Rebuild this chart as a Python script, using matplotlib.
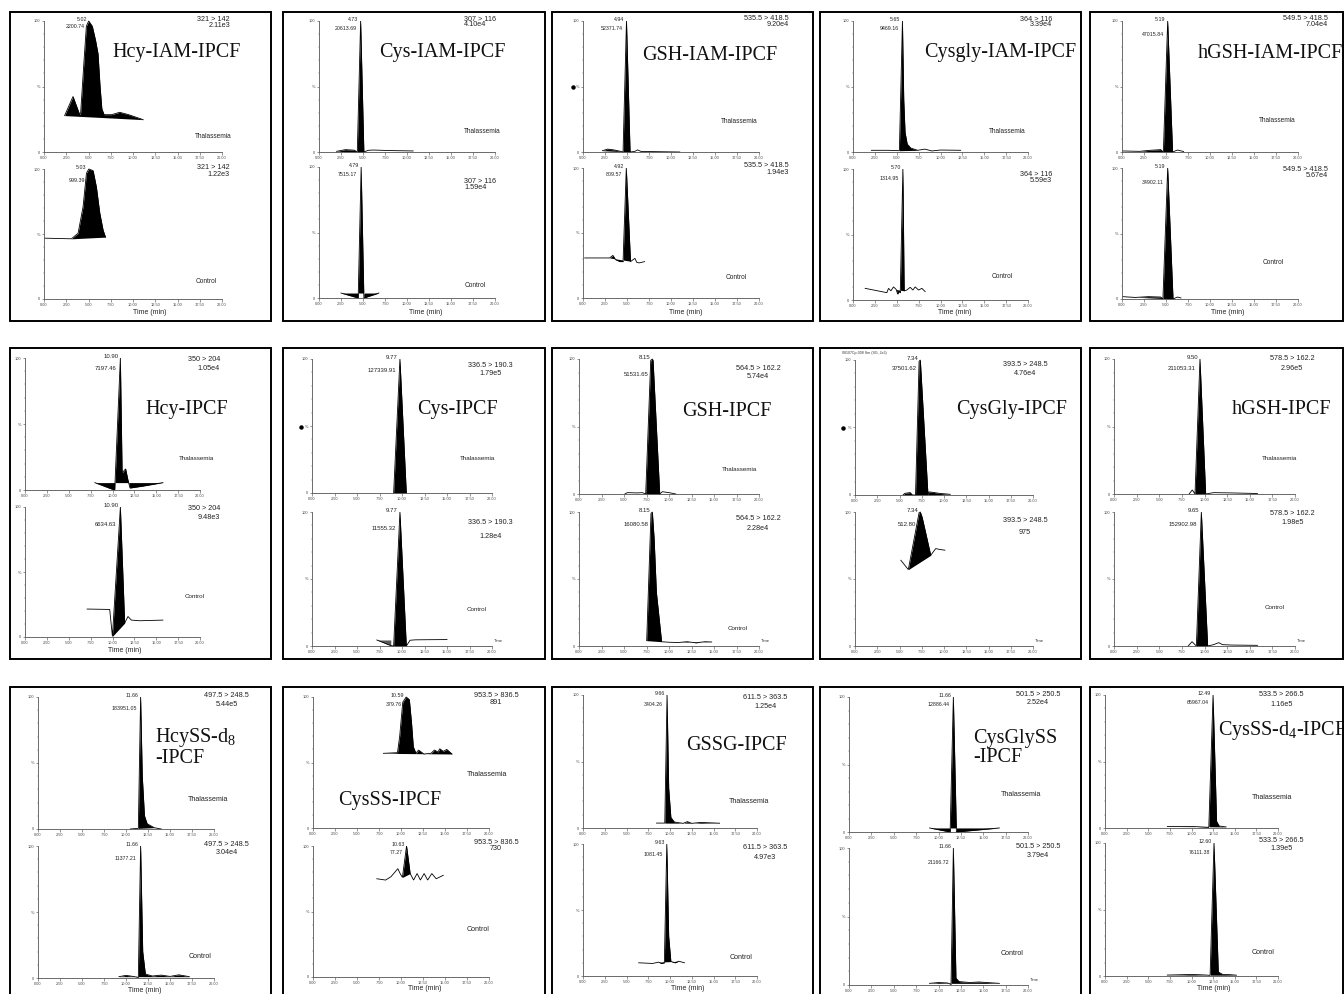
import numpy as np
import matplotlib
matplotlib.use("Agg")
import matplotlib.pyplot as plt
from matplotlib.patches import Rectangle
from matplotlib.lines import Line2D

plt.rcParams['font.family'] = ['Liberation Sans', 'DejaVu Sans']
plt.rcParams['mathtext.fontset'] = 'custom'
plt.rcParams['mathtext.rm'] = 'Liberation Serif'
plt.rcParams['mathtext.it'] = 'Liberation Serif:italic'

# ---------------- data ----------------
compounds = ["Hcy-IAM-IPCF", "Cys-IAM-IPCF", "GSH-IAM-IPCF", "Cysgly-IAM-IPCF", "hGSH-IAM-IPCF",
             "Hcy-IPCF", "Cys-IPCF", "GSH-IPCF", "CysGly-IPCF", "hGSH-IPCF",
             "HcySS-d$_{8}$\n-IPCF", "CysSS-IPCF", "GSSG-IPCF", "CysGlySS\n-IPCF", "CysSS-d$_{4}$-IPCF"]
mrm = ["321 > 142", "307 > 116", "535.5 > 418.5", "364 > 116", "549.5 > 418.5",
       "350 > 204", "336.5 > 190.3", "564.5 > 162.2", "393.5 > 248.5", "578.5 > 162.2",
       "497.5 > 248.5", "953.5 > 836.5", "611.5 > 363.5", "501.5 > 250.5", "533.5 > 266.5"]
rt_thal = [5.02, 4.73, 4.94, 5.65, 5.19, 10.90, 9.77, 8.15, 7.34, 9.50, 11.66, 10.59, 9.66, 11.66, 12.49]
area_thal = ["2200.74", "20613.69", "52371.74", "9469.16", "47015.84", "7197.46", "127339.91", "51531.65",
             "37501.62", "211053.31", "183951.05", "379.76", "3404.26", "12886.44", "65967.04"]
int_thal = ["2.11e3", "4.10e4", "9.20e4", "3.39e4", "7.04e4", "1.05e4", "1.79e5", "5.74e4",
            "4.76e4", "2.96e5", "5.44e5", "891", "1.25e4", "2.52e4", "1.16e5"]
rt_ctrl = [5.03, 4.79, 4.92, 5.70, 5.19, 10.90, 9.77, 8.15, 7.34, 9.65, 11.66, 10.63, 9.63, 11.66, 12.60]
area_ctrl = ["999.39", "7515.17", "809.57", "1314.95", "34902.11", "6634.63", "11555.32", "16080.58",
             "512.80", "152902.98", "11377.21", "77.27", "1081.45", "21166.72", "76111.38"]
int_ctrl = ["1.22e3", "1.59e4", "1.94e3", "5.59e3", "5.67e4", "9.48e3", "1.28e4", "2.28e4",
            "975", "1.98e5", "3.04e4", "730", "4.97e3", "3.79e4", "1.39e5"]
groups = ["Thalassemia", "Control"]
x_ticks = [0.0, 2.5, 5.0, 7.5, 10.0, 12.5, 15.0, 17.5, 20.0]

# chromatogram traces: (time min, relative intensity %)
hcy_iam_thal = [(2.32, 27.8), (3.26, 42.4), (4.01, 28.5), (4.12, 30), (4.5, 70), (4.76, 96), (5.02, 100),
                (5.43, 96), (5.8, 85), (6.07, 75), (6.3, 50), (6.5, 33), (6.75, 28.5), (7.6, 28.5),
                (8.5, 30.3), (9.5, 28.5), (11.14, 24.7)]
hcy_iam_ctrl = [(0.08, 46.8), (3.08, 46.3), (3.83, 50.6), (4.39, 71), (4.77, 96.7), (5.03, 100), (5.52, 98.7),
                (5.89, 86), (6.27, 66), (6.64, 53), (6.91, 47.6)]
cys_iam_thal = [(2.0, 0.5), (3.0, 1.8), (4.0, 1.4), (4.35, 0), (4.73, 100), (5.1, 0), (5.6, 1.3), (6.2, 1.5),
                (8.0, 1.1), (10.7, 0.8)]
cys_iam_ctrl = [(2.5, 3.8), (4.45, 0), (4.79, 100), (5.1, 0), (6.8, 3.8)]
gsh_iam_thal = [(2.2, 1.0), (2.8, 2.2), (3.5, 1.6), (4.2, 0.6), (4.55, 0), (4.94, 100), (5.35, 0), (5.9, 0.5),
                (6.2, 1.6), (6.6, 0.4), (8.0, 0.3), (11.0, 0)]
gsh_iam_ctrl = [(0.19, 30.8), (3.03, 30.8), (3.4, 32.8), (3.7, 29.5), (4.2, 28), (4.55, 28), (4.92, 100),
                (5.4, 28), (5.9, 30.5), (6.1, 27.5), (6.4, 27), (7.0, 28)]
cysgly_iam_thal = [(2.1, 1.3), (4.0, 1.3), (5.3, 1.0), (5.65, 100), (5.8, 40), (5.95, 15), (6.2, 6), (6.6, 3),
                   (7.4, 1.3), (8.2, 2.2), (9.0, 0.8), (10.0, 1.5), (12.3, 1.3)]
cysgly_iam_ctrl = [(1.39, 8.9), (3.87, 5.6), (4.06, 8.9), (4.33, 7), (4.63, 10), (4.94, 8), (5.1, 4.5),
                   (5.25, 6.5), (5.4, 5.5), (5.70, 100), (5.85, 7), (6.15, 7.6), (6.54, 9.7), (6.84, 7.6),
                   (7.11, 10), (7.49, 7.6), (7.87, 8.9), (8.25, 6.4)]
hgsh_iam_thal = [(0.1, 0.8), (2.0, 0.5), (3.0, 1.2), (4.4, 1.8), (4.7, 0), (5.19, 100), (5.75, 0), (6.3, 1.5),
                 (6.6, 1.0), (7.0, 0.4)]
hgsh_iam_ctrl = [(0.1, 1.8), (1.5, 1.2), (3.0, 1.8), (4.4, 1.5), (4.65, 0), (5.19, 100), (5.8, 0), (6.3, 1.5),
                 (6.7, 0.8)]
hcy_thal = [(7.98, 5.6), (9.87, 0.8), (10.25, 0), (10.90, 100), (11.1, 13), (11.5, 16), (11.75, 8),
            (12.0, 1.5), (13.5, 3), (15.76, 5.6)]
hcy_ctrl = [(7.1, 21.5), (9.68, 21.2), (9.99, 0.5), (10.90, 100), (11.39, 10.7), (11.77, 15.8), (12.15, 13),
            (13.1, 12.5), (15.76, 13)]
cys_thal = [(9.07, 0), (9.77, 100), (10.48, 0)]
cys_ctrl = [(7.2, 4.5), (8.75, 0.3), (9.07, 0), (9.77, 100), (10.48, 0), (10.9, 4.3), (11.5, 4.6),
            (13.0, 4.7), (15.0, 4.8)]
gsh_thal = [(5.1, 0), (5.37, 1.0), (6.5, 0.8), (7.04, 1.0), (7.41, 0), (7.97, 99), (8.15, 100), (8.23, 99),
            (8.97, 0), (9.26, 1.7), (10.0, 1.0), (10.75, 0)]
gsh_ctrl = [(7.52, 4.0), (8.0, 99), (8.15, 100), (8.35, 80), (8.6, 40), (9.18, 3.2), (10.0, 2.8), (11.0, 2.6),
            (12.0, 3.2), (13.0, 2.4), (14.0, 3.2), (14.74, 3.0)]
cysgly_thal = [(5.4, 0), (5.58, 1.2), (6.2, 1.8), (6.45, 0), (6.8, 0), (7.2, 99), (7.34, 100), (8.2, 0),
               (8.3, 2.3), (8.7, 2.0), (9.5, 1.2), (10.7, 0.5)]
cysgly_ctrl = [(5.15, 64), (5.99, 57), (7.2, 99.5), (7.34, 100), (7.55, 96), (8.51, 67.7), (9.07, 72.7),
               (9.56, 72), (10.1, 71.5)]
hgsh_thal = [(8.3, 0), (8.65, 3), (8.95, 0), (9.50, 100), (10.13, 0), (11.0, 1.0), (13.0, 0.8), (15.0, 0.5),
             (15.85, 0.3)]
hgsh_ctrl = [(8.2, 0), (8.62, 3.2), (9.1, 0), (9.65, 100), (10.35, 0), (11.0, 1.0), (11.57, 2.5), (12.0, 1.0),
             (13.0, 0.7), (15.85, 0.5)]
hcyss_thal = [(10.5, 0), (11.4, 0.5), (11.66, 100), (11.85, 40), (12.1, 10), (12.4, 4), (13.2, 1), (14.0, 0)]
hcyss_ctrl = [(9.2, 1), (10.0, 2), (10.8, 1.2), (11.4, 0.5), (11.66, 100), (11.9, 20), (12.2, 3), (13.0, 1.5),
              (14.0, 2.2), (15.0, 1.2), (16.0, 2.4), (17.2, 1)]
cysss_thal = [(8.0, 57), (9.6, 57.5), (9.85, 70), (10.2, 96), (10.59, 100), (10.95, 98), (11.2, 80),
              (11.4, 62), (11.7, 57), (12.0, 59.5), (12.6, 56.5), (13.4, 57), (13.8, 59.5), (14.2, 58),
              (14.4, 60.5), (14.8, 58.5), (15.2, 60), (15.8, 56.5)]
cysss_ctrl = [(7.25, 75), (8.25, 74), (8.85, 76.5), (9.3, 80), (9.64, 82.7), (9.9, 79), (10.16, 76),
              (10.63, 100), (11.04, 79), (11.43, 74), (11.83, 79), (12.2, 74), (12.63, 79), (13.03, 74),
              (13.5, 79), (14.0, 75), (14.8, 77.6)]
gssg_thal = [(8.45, 3.7), (9.4, 3.7), (9.66, 100), (9.85, 30), (10.1, 8), (10.5, 4.5), (11.5, 3.5), (12.0, 4.8),
             (12.5, 3.5), (13.5, 4.2), (15.7, 3.6)]
gssg_ctrl = [(6.4, 10), (8.0, 9.5), (8.7, 10.5), (9.0, 9.5), (9.35, 10), (9.63, 100), (9.85, 30), (10.1, 11),
             (10.6, 10), (11.0, 11.2), (11.66, 10)]
cysglyss_thal = [(9.0, 3), (11.3, 0), (11.66, 100), (12.0, 0), (16.8, 3)]
cysglyss_ctrl = [(9.0, 1.2), (10.0, 1.8), (11.0, 1.5), (11.4, 0.5), (11.66, 100), (11.95, 5), (12.3, 2.5),
                 (13.5, 1.8), (14.5, 2.2), (16.8, 1.2)]
cysssd4_thal = [(7.2, 1.2), (10.0, 1.2), (12.0, 0.5), (12.49, 100), (12.9, 5), (13.2, 1.5), (14.0, 0.8)]
cysssd4_ctrl = [(7.2, 0.7), (9.0, 1.0), (10.0, 1.2), (11.5, 0.8), (12.15, 0.5), (12.6, 100), (13.1, 3),
                (13.6, 1.2), (14.5, 1.0), (15.2, 0.6)]

thal_traces = [hcy_iam_thal, cys_iam_thal, gsh_iam_thal, cysgly_iam_thal, hgsh_iam_thal,
               hcy_thal, cys_thal, gsh_thal, cysgly_thal, hgsh_thal,
               hcyss_thal, cysss_thal, gssg_thal, cysglyss_thal, cysssd4_thal]
ctrl_traces = [hcy_iam_ctrl, cys_iam_ctrl, gsh_iam_ctrl, cysgly_iam_ctrl, hgsh_iam_ctrl,
               hcy_ctrl, cys_ctrl, gsh_ctrl, cysgly_ctrl, hgsh_ctrl,
               hcyss_ctrl, cysss_ctrl, gssg_ctrl, cysglyss_ctrl, cysssd4_ctrl]
# integrated (filled) time windows
thal_fills = [[(2.32, 11.14)], [(2.0, 5.1)], [(2.2, 5.35)], [(5.3, 7.4)], [(0.1, 5.75)],
              [(7.98, 15.76)], [(9.07, 10.48)], [(7.41, 8.97)], [(5.4, 10.7)], [(8.95, 10.13)],
              [(11.4, 13.2)], [(8.0, 15.8)], [(8.45, 15.7)], [(9.0, 16.8)], [(7.2, 14.0)]]
ctrl_fills = [[(3.08, 6.91)], [(2.5, 6.8)], [(3.03, 5.45)], [(4.94, 5.85)], [(0.1, 5.8)],
              [(9.99, 11.39)], [(7.2, 8.75, '#5a5a5a', 4.5), (9.07, 10.48)], [(7.52, 9.18), (10.5, 14.74)],
              [(5.99, 8.51)], [(9.1, 10.35)],
              [(9.2, 17.2)], [(10.16, 11.04)], [(8.7, 11.0)], [(9.0, 16.8)], [(7.2, 15.2)]]

# ---------------- layout (pixels) ----------------
W, H = 1344, 994
fig = plt.figure(figsize=(W / 100, H / 100), dpi=100)

box_cols = [(10, 271), (283, 545), (552, 813), (820, 1081), (1090, 1343)]
box_rows = [(12, 321), (348, 659), (687, 1010)]

# x(0), x(20), top y100, top y0, bottom y100, bottom y0
axes_px = [(44, 222, 21, 152, 169, 299), (319, 495, 21, 152, 167, 298), (583, 759, 21, 152, 168, 298),
           (853, 1028, 21, 152, 169, 300), (1122, 1298, 21, 152, 168, 299),
           (25, 200, 358, 490, 507, 637), (312, 492, 359, 493, 512, 646), (579, 759, 359, 494, 512, 646),
           (855, 1033, 360, 495, 512, 646), (1114, 1295, 359, 494, 512, 646),
           (38, 214, 697, 829, 846, 978), (313, 489, 697, 828, 846, 977), (583, 757, 695, 828, 844, 976),
           (849, 1028, 697, 832, 848, 985), (1105, 1278, 695, 828, 843, 976)]
# transition text: (x frac, y line1, y line2, ha) for thal / ctrl
tr_thal = [(1.045, 1.015, 0.962, 'right'), (0.824, 1.015, 0.97, 'left'), (1.17, 1.02, 0.977, 'right'),
           (1.137, 1.015, 0.97, 'right'), (1.17, 1.02, 0.977, 'right'),
           (1.114, 0.985, 0.924, 'right'), (0.99, 0.955, 0.895, 'center'), (0.994, 0.926, 0.867, 'center'),
           (0.955, 0.97, 0.90, 'center'), (0.985, 1.0, 0.93, 'center'),
           (1.072, 1.013, 0.945, 'center'), (1.04, 1.01, 0.96, 'center'), (1.047, 0.98, 0.91, 'center'),
           (1.056, 1.017, 0.96, 'center'), (1.02, 1.0, 0.932, 'center')]
tr_ctrl = [(1.045, 1.008, 0.954, 'right'), (0.824, 0.893, 0.847, 'left'), (1.17, 1.02, 0.965, 'right'),
           (1.137, 0.96, 0.916, 'right'), (1.17, 0.985, 0.94, 'right'),
           (1.114, 0.99, 0.92, 'right'), (0.99, 0.918, 0.82, 'center'), (0.994, 0.955, 0.88, 'center'),
           (0.955, 0.94, 0.85, 'center'), (0.985, 0.99, 0.92, 'center'),
           (1.072, 1.01, 0.95, 'center'), (1.04, 1.025, 0.98, 'center'), (1.047, 0.97, 0.90, 'center'),
           (1.056, 1.012, 0.946, 'center'), (1.02, 1.018, 0.955, 'center')]
lab_thal = [(0.95, 0.122), (0.926, 0.153), (0.89, 0.23), (0.88, 0.16), (0.88, 0.237),
            (0.983, 0.235), (0.917, 0.26), (0.894, 0.178), None, (0.915, 0.26),
            (0.966, 0.22), (0.988, 0.41), (0.956, 0.2), (0.963, 0.28), (0.968, 0.233)]
lab_ctrl = [(0.91, 0.131), (0.886, 0.092), (0.87, 0.16), (0.851, 0.183), (0.86, 0.275),
            (0.97, 0.315), (0.917, 0.276), (0.883, 0.127), None, (0.89, 0.29),
            (0.918, 0.16), (0.938, 0.36), (0.907, 0.14), (0.913, 0.227), (0.912, 0.178)]
area_dy = [(6, 11), (7, 8), (7, 6), (7, 9), (13, 14), (11, 17), (11, 16), (15, 13), (8, 13), (10, 12),
           (11, 12), (8, 7), (10, 11), (8, 15), (8, 10)]
title_px = [(177, 53, 'center'), (442, 53, 'center'), (710, 55, 'center'), (1000, 53, 'center'),
            (1270, 53, 'center'), (187, 410, 'center'), (457, 410, 'center'), (727, 412, 'center'),
            (1012, 410, 'center'), (1282, 410, 'center'), (155, 747, 'left'), (390, 800, 'center'),
            (736, 746, 'center'), (973, 748, 'left'), (1282, 730, 'center')]
time_min_px = [(150, 313), (426, 313), (686, 313), (955, 313), (1228, 313),
               (125, 651), None, None, None, None,
               (145, 990), (425, 989), (688, 988), None, (1214, 988)]
dots_px = [(573, 87), (301, 427), (843, 428)]

row_font = [(3.8, 4.7), (4.3, 4.5), (3.8, 5.1)]   # (rt/area size, sample label size)


def fx(x):
    return x / W


def fy(y):
    return 1 - y / H


# panel frames
for (y0, y1) in box_rows:
    for (x0, x1) in box_cols:
        fig.patches.append(Rectangle((fx(x0), fy(y1)), fx(x1) - fx(x0), fy(y0) - fy(y1),
                                     transform=fig.transFigure, fill=False, edgecolor='black',
                                     linewidth=1.4, zorder=5))


def make_axes(x0, x20, y100, y0):
    ax = fig.add_axes([fx(x0), fy(y0), fx(x20) - fx(x0), fy(y100) - fy(y0)])
    ax.set_xlim(0, 20)
    ax.set_ylim(0, 100)
    ax.patch.set_alpha(0)
    for s in ('top', 'right'):
        ax.spines[s].set_visible(False)
    for s in ('left', 'bottom'):
        ax.spines[s].set_color('#555555')
        ax.spines[s].set_linewidth(0.6)
    ax.set_xticks(x_ticks)
    ax.set_xticklabels([f"{v:.2f}" for v in x_ticks])
    ax.set_xticks(np.arange(0, 20.01, 0.5), minor=True)
    ax.set_yticks([0, 50, 100])
    ax.set_yticklabels(["0", "%", "100"])
    ax.set_yticks(np.arange(0, 101, 10), minor=True)
    ax.tick_params(which='major', length=1.8, width=0.4, labelsize=2.8, pad=0.8, colors='#444444')
    ax.tick_params(which='minor', length=1.0, width=0.3, colors='#666666')
    return ax


def draw_trace(ax, pts, fills):
    t = np.array([p[0] for p in pts], dtype=float)
    y = np.array([p[1] for p in pts], dtype=float)
    for f in fills:
        t0, t1 = f[0], f[1]
        color = f[2] if len(f) > 2 else 'black'
        base = f[3] if len(f) > 3 else None
        mask = (t > t0) & (t < t1)
        tt = np.concatenate([[t0], t[mask], [t1]])
        yy = np.interp(tt, t, y)
        if base is None:
            bb = np.interp(tt, [t0, t1], [yy[0], yy[-1]])
        else:
            bb = np.full_like(tt, base)
        ax.fill_between(tt, yy, bb, color=color, lw=0, clip_on=False)
    ax.plot(t, y, color='black', lw=0.6, clip_on=False, solid_joinstyle='miter')


def peak_labels(ax, rt, area, dy_px, size, x0, x20, y100, y0):
    px_per_min = (x20 - x0) / 20.0
    apex_x = x0 + rt * px_per_min
    ax.text(fx(apex_x - 2), fy(y100 - 1.5), f"{rt:.2f}", transform=fig.transFigure,
            fontsize=size, ha='right', va='center', color='#222222')
    ax.text(fx(apex_x - 4), fy(y100 + dy_px), area, transform=fig.transFigure,
            fontsize=size, ha='right', va='center', color='#222222')


for i in range(15):
    row = i // 5
    x0, x20, ty100, ty0, by100, by0 = axes_px[i]
    rsz, lsz = row_font[row]
    ax_t = make_axes(x0, x20, ty100, ty0)
    ax_b = make_axes(x0, x20, by100, by0)
    draw_trace(ax_t, thal_traces[i], thal_fills[i])
    draw_trace(ax_b, ctrl_traces[i], ctrl_fills[i])
    peak_labels(ax_t, rt_thal[i], area_thal[i], area_dy[i][0], rsz, x0, x20, ty100, ty0)
    peak_labels(ax_b, rt_ctrl[i], area_ctrl[i], area_dy[i][1], rsz, x0, x20, by100, by0)
    for ax, tr, inten, lab, g in ((ax_t, tr_thal[i], int_thal[i], lab_thal[i], groups[0]),
                                  (ax_b, tr_ctrl[i], int_ctrl[i], lab_ctrl[i], groups[1])):
        xf, y1f, y2f, ha = tr
        ax.text(xf, y1f, mrm[i], transform=ax.transAxes, fontsize=5.2, ha=ha, va='center', color='#222222')
        ax.text(xf, y2f, inten, transform=ax.transAxes, fontsize=5.2, ha=ha, va='center', color='#222222')
        if lab is not None:
            ax.text(lab[0], lab[1], g, transform=ax.transAxes, fontsize=lsz, ha='center', va='center',
                    color='#222222')
    if time_min_px[i] is not None:
        tx, ty = time_min_px[i]
        fig.text(fx(tx), fy(ty), "Time (min)", fontsize=5.0, ha='center', va='center', color='#222222')
    else:
        ax_b.text(1.01, 0.025, "Time", transform=ax_b.transAxes, fontsize=3.0, ha='left', va='bottom',
                  color='#333333')
    tx, ty, tha = title_px[i]
    fig.text(fx(tx), fy(ty), compounds[i], fontsize=14.5, family='Liberation Serif', ha=tha, va='center',
             ma='left', linespacing=1.05, color='#111111')

# instrument header above CysGly-IPCF
fig.text(fx(842), fy(353), "08107Cp-008 Sm (SG, 2x3)", fontsize=2.6, ha='left', va='center', color='#333333')
for (dx, dy) in dots_px:
    fig.lines.append(Line2D([fx(dx)], [fy(dy)], marker='o', markersize=2.2, color='black',
                            transform=fig.transFigure))

fig.savefig("out.png", dpi=100)
